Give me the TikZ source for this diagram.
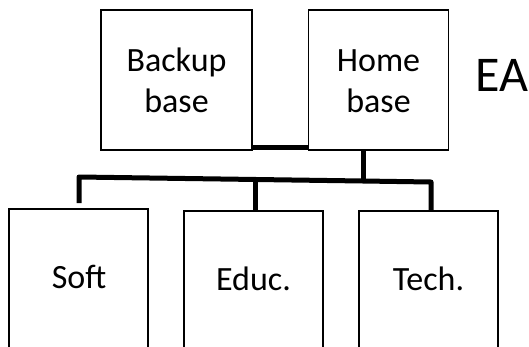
\documentclass[tikz,border=0pt]{standalone}
\usepackage{fontspec}
\setmainfont{Carlito}
\begin{document}
\begin{tikzpicture}[x=1pt,y=-1pt,
  box/.style={draw=black,line width=1.6pt,fill=white,inner sep=0pt},
  lbl/.style={font=\fontsize{34}{41}\selectfont,align=center,inner sep=0pt},
  wire/.style={line width=5pt,line join=round,line cap=butt}]
\useasboundingbox (0,0) rectangle (529,346);
\clip (0,0) rectangle (529,346);
% top boxes
\node[box,minimum width=151pt,minimum height=140pt] (backup) at (176.5,80) {};
\node[lbl] (backuptxt) at (176.5,80) {Backup\\base};
\node[box,minimum width=140pt,minimum height=140pt] (home) at (378.5,80) {};
\node[lbl] (hometxt) at (378.5,81) {Home\\base};
\node[font=\fontsize{50}{52}\selectfont,inner sep=0pt,anchor=base west] (ea) at (475,91) {EA};
% bottom boxes
\node[box,minimum width=139pt,minimum height=160pt,anchor=north] (soft) at (78.5,208) {};
\node[lbl,anchor=base] (softtxt) at (79,288) {Soft};
\node[box,minimum width=139pt,minimum height=160pt,anchor=north] (educ) at (253.5,210) {};
\node[lbl,anchor=base] (eductxt) at (253.5,290) {Educ.};
\node[box,minimum width=139pt,minimum height=160pt,anchor=north] (tech) at (428.5,210) {};
\node[lbl,anchor=base] (techtxt) at (428.5,290) {Tech.};
% connectors
\coordinate (bl) at (79,177);
\coordinate (bj) at (363,181);
\coordinate (br) at (431,182);
\coordinate (softend) at (79,203);
\draw[wire] ([yshift=3pt]backup.south east) -- ([yshift=3pt]home.south west);
\draw[wire] (home.south -| bj) -- (bj);
\draw[wire] (softend) -- (bl) -- (bj) -- (br) -- (tech.north -| br);
\draw[wire] (255,179.5) -- (educ.north -| 255,0);
\end{tikzpicture}
\end{document}
